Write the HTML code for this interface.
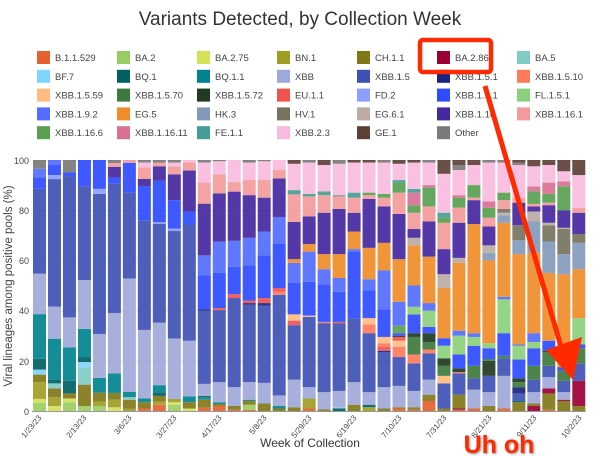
<!DOCTYPE html>
<html><head><meta charset="utf-8"><style>
body{margin:0;background:#fff;width:600px;height:464px;overflow:hidden;font-family:"Liberation Sans",sans-serif}
svg text{font-family:"Liberation Sans",sans-serif}
</style></head><body>
<svg id="s" width="600" height="464" xmlns="http://www.w3.org/2000/svg">
<text x="300" y="25" text-anchor="middle" font-size="19" fill="#333">Variants Detected, by Collection Week</text>
<g id="leg" font-size="9.5" fill="#444"></g>
<g stroke="#e6e6e6" stroke-width="1">
<line x1="32" x2="586" y1="160.5" y2="160.5"/><line x1="32" x2="586" y1="210.7" y2="210.7"/><line x1="32" x2="586" y1="260.9" y2="260.9"/><line x1="32" x2="586" y1="311.1" y2="311.1"/><line x1="32" x2="586" y1="361.3" y2="361.3"/>
</g>
<g font-size="9" fill="#444" text-anchor="end">
<text x="29" y="164">100</text><text x="29" y="214">80</text><text x="29" y="264">60</text><text x="29" y="314">40</text><text x="29" y="365">20</text><text x="29" y="415">0</text>
</g>
<text transform="translate(12,286) rotate(-90)" text-anchor="middle" font-size="11.5" fill="#444">Viral lineages among positive pools (%)</text>
<g id="bars"></g>
<line x1="32" x2="586" y1="411.5" y2="411.5" stroke="#999"/>
<g font-size="8" fill="#444" text-anchor="end">
<text transform="translate(42,418) rotate(-50)">1/23/23</text>
<text transform="translate(87,418) rotate(-50)">2/13/23</text>
<text transform="translate(132,418) rotate(-50)">3/6/23</text>
<text transform="translate(177,418) rotate(-50)">3/27/23</text>
<text transform="translate(222,418) rotate(-50)">4/17/23</text>
<text transform="translate(267,418) rotate(-50)">5/8/23</text>
<text transform="translate(312,418) rotate(-50)">5/29/23</text>
<text transform="translate(357,418) rotate(-50)">6/19/23</text>
<text transform="translate(402,418) rotate(-50)">7/10/23</text>
<text transform="translate(447,418) rotate(-50)">7/31/23</text>
<text transform="translate(492,418) rotate(-50)">8/21/23</text>
<text transform="translate(537,418) rotate(-50)">9/11/23</text>
<text transform="translate(582,418) rotate(-50)">10/2/23</text>
</g>
<text x="310" y="447" text-anchor="middle" font-size="12" fill="#333">Week of Collection</text>
<rect x="420" y="40" width="71" height="32" fill="none" stroke="#ff2a00" stroke-width="4.5" rx="3"/>
<line x1="485" y1="86" x2="562" y2="350" stroke="#ff2a00" stroke-width="5"/>
<polygon points="546,350 582,337 573,380" fill="#ff2a00"/>
<text x="499" y="453" text-anchor="middle" font-size="25" font-weight="bold" fill="#ff2a00" style="text-shadow:1px 1px 2px #888">Uh oh</text>
</svg>
<script>
var C={"B.1.1.529":"#e4612f","BA.2":"#9acd61","BA.2.75":"#d4e157","BN.1":"#9e9d24","CH.1.1":"#827717","BA.2.86":"#9b0035","BA.5":"#80cbc4","BF.7":"#81d4fa","BQ.1":"#006064","BQ.1.1":"#00838f","XBB":"#9fa8da","XBB.1.5":"#3f51b5","XBB.1.5.1":"#1a237e","XBB.1.5.10":"#ff7a5c","XBB.1.5.59":"#ffbb80","XBB.1.5.70":"#3d7a3d","XBB.1.5.72":"#1f3a1f","EU.1.1":"#ef5350","FD.2":"#8c9eff","XBB.1.9.1":"#2e4bff","XBB.1.9.2":"#536dfe","FL.1.5.1":"#8bd07a","EG.5":"#f08c2a","HK.3":"#8399bb","HV.1":"#767460","EG.6.1":"#bcaaa4","XBB.1.16":"#4527a0","XBB.1.16.1":"#f49a9a","XBB.1.16.6":"#58a050","XBB.1.16.11":"#d87093","FE.1.1":"#459e95","XBB.2.3":"#f8bbdf","GE.1":"#5d4037","Other":"#7a7a7a"};
var L=["B.1.1.529","BA.2","BA.2.75","BN.1","CH.1.1","BA.2.86","BA.5","BF.7","BQ.1","BQ.1.1","XBB","XBB.1.5","XBB.1.5.1","XBB.1.5.10","XBB.1.5.59","XBB.1.5.70","XBB.1.5.72","EU.1.1","FD.2","XBB.1.9.1","FL.1.5.1","XBB.1.9.2","EG.5","HK.3","HV.1","EG.6.1","XBB.1.16","XBB.1.16.1","XBB.1.16.6","XBB.1.16.11","FE.1.1","XBB.2.3","GE.1","Other"];
var ns="http://www.w3.org/2000/svg",leg=document.getElementById("leg");
L.forEach(function(n,i){var c=i%7,r=Math.floor(i/7),x=37+c*80,y=51+r*18.8;
var q=document.createElementNS(ns,"rect");q.setAttribute("x",x);q.setAttribute("y",y);q.setAttribute("width",13);q.setAttribute("height",13);q.setAttribute("fill",C[n]);leg.appendChild(q);
var t=document.createElementNS(ns,"text");t.setAttribute("x",x+18);t.setAttribute("y",y+10);t.textContent=n;leg.appendChild(t);});
var D=`BA.2 3.3,BA.2.75 4.8,BN.1 11.5,CH.1.1 14.5,BF.7 16.5,BQ.1 20.8,BQ.1.1 38.6,XBB 54.7,XBB.1.5 88.5,XBB.1.9.1 93,XBB.1.9.2 96.5,Other 100
BA.2.75 2,BN.1 5.5,CH.1.1 9,BA.5 11,BQ.1 12.5,BQ.1.1 28.8,XBB 41.6,XBB.1.5 92.4,FD.2 94,XBB.1.9.1 98,XBB.1.9.2 100
BA.2 3.5,BA.2.75 5,CH.1.1 7,BQ.1 12,BQ.1.1 25.3,XBB 37.3,XBB.1.5 93.6,XBB.1.9.1 95,Other 100
BA.2 2,CH.1.1 10.5,BA.5 17.3,BF.7 19.5,BQ.1 21.5,BQ.1.1 32.7,XBB 52.2,XBB.1.5 89.5,XBB.1.9.1 100
BA.2 2,BN.1 3.8,CH.1.1 7.3,BQ.1.1 13.2,XBB 30.7,XBB.1.5 86.5,FD.2 88.5,XBB.1.9.1 100
BA.2.75 1.5,BN.1 4.5,CH.1.1 7.2,BQ.1.1 15,XBB 39,XBB.1.5 90.5,XBB.1.9.1 93,XBB.1.16 97.3,XBB.1.16.1 98.8,Other 100
BN.1 1,CH.1.1 4.5,BA.5 5.5,BQ.1.1 7.6,XBB 52.8,XBB.1.5 87,XBB.1.9.1 98.9,XBB.1.16.1 100
B.1.1.529 1,CH.1.1 3.5,BQ.1.1 5,XBB 32.3,XBB.1.5 76,XBB.1.9.1 89.5,XBB.1.16 92.5,XBB.1.16.1 97,XBB.2.3 99,Other 100
B.1.1.529 2.5,BN.1 3.8,CH.1.1 6,BQ.1 7.5,BQ.1.1 10.3,XBB 35.2,XBB.1.5 74.5,FD.2 75.2,XBB.1.9.1 91.7,XBB.1.16 97.5,XBB.1.16.1 99,Other 100
BA.2 2.5,BA.2.75 3.5,BN.1 4.8,XBB 28.9,XBB.1.5 71.7,FD.2 72.7,XBB.1.9.1 84,XBB.1.16 94.3,XBB.1.16.1 97.5,XBB.2.3 99,Other 100
BA.2.75 1,CH.1.1 3.5,BQ.1.1 5.8,XBB 28,XBB.1.5 74.3,XBB.1.9.1 79.5,XBB.1.16 95.8,XBB.1.16.1 99,XBB.2.3 100
B.1.1.529 1.3,CH.1.1 4.5,BQ.1.1 5.5,BQ.1 6,XBB 10.8,XBB.1.5 40,XBB.1.5.1 40.6,XBB.1.9.1 54,XBB.1.9.2 62,XBB.1.16 82.6,XBB.1.16.1 91,XBB.2.3 99,Other 100
B.1.1.529 2,CH.1.1 2.8,BQ.1.1 3.5,XBB 11.5,XBB.1.5 40.2,EU.1.1 41,XBB.1.9.1 55,XBB.1.9.2 67.5,XBB.1.16 86.7,XBB.1.16.1 94.3,XBB.2.3 99.5,Other 100
B.1.1.529 0.5,CH.1.1 2,XBB 9.5,XBB.1.5 45,EU.1.1 46.5,XBB.1.9.1 57.5,XBB.1.9.2 67.8,XBB.1.16 87.4,XBB.1.16.1 91.2,XBB.2.3 100
B.1.1.529 0.5,BA.2 2.5,CH.1.1 4,BQ.1.1 4.5,XBB 11.5,XBB.1.5 42.3,XBB.1.5.1 43,EU.1.1 44,XBB.1.9.1 58,XBB.1.9.2 69,XBB.1.16 86,XBB.1.16.1 92,XBB.2.3 99,Other 100
CH.1.1 3,XBB 11.2,XBB.1.5 42,XBB.1.5.1 43,EU.1.1 45,XBB.1.9.1 62,XBB.1.9.2 71.5,XBB.1.16 85,XBB.1.16.1 92,XBB.2.3 99.5,Other 100
CH.1.1 1,BQ.1.1 2,XBB 6.2,XBB.1.5 46.3,XBB.1.5.10 47.5,EU.1.1 49,XBB.1.9.1 66.7,XBB.1.9.2 77.3,XBB.1.16 92.7,XBB.1.16.1 96,XBB.2.3 100
CH.1.1 1.5,XBB 12.5,XBB.1.5 34.2,EU.1.1 36,XBB.1.5.59 38.5,XBB.1.9.1 51,XBB.1.9.2 59,EG.5 60.5,XBB.1.16 75.3,XBB.1.16.1 86.3,FE.1.1 88,XBB.2.3 98.5,GE.1 100
B.1.1.529 1,BN.1 5,XBB 9.5,XBB.1.5 37.5,XBB.1.5.59 38,XBB.1.9.1 51.5,XBB.1.9.2 63.5,EG.5 66.5,XBB.1.16 77.5,XBB.1.16.1 85.5,FE.1.1 86.5,XBB.2.3 99,Other 100
CH.1.1 0.7,XBB 7.5,XBB.1.5 35,XBB.1.5.10 35.5,XBB.1.9.1 50.5,XBB.1.9.2 56.5,EG.5 62.5,XBB.1.16 79,XBB.1.16.1 86,FE.1.1 87.5,XBB.2.3 98,GE.1 100
BQ.1 1,BA.5 1.5,XBB 8,XBB.1.5 35,EU.1.1 35.5,XBB.1.9.1 47.5,XBB.1.9.2 53,EG.5 62.5,XBB.1.16 80.5,XBB.1.16.1 85.5,FE.1.1 86,XBB.2.3 98.5,Other 100
CH.1.1 2.5,XBB 11.5,XBB.1.5 37,XBB.1.9.1 63.5,XBB.1.9.2 64.5,EG.5 71.5,XBB.1.16 79,XBB.1.16.1 85,FE.1.1 87,XBB.2.3 99,GE.1 100
BN.1 1.5,BQ.1 2.5,XBB 7.5,XBB.1.5 31,XBB.1.5.10 34.5,XBB.1.5.59 37,XBB.1.9.1 48,XBB.1.9.2 52.5,EG.5 65,XBB.1.16 84.5,XBB.1.16.1 86,XBB.1.16.6 87,XBB.2.3 99,GE.1 100
CH.1.1 1,XBB 9.5,XBB.1.5 23.5,XBB.1.5.1 24,EU.1.1 25.5,XBB.1.5.10 27,XBB.1.5.59 29.5,XBB.1.9.1 40.5,XBB.1.9.2 56,EG.5 67,XBB.1.16 81.5,XBB.1.16.1 85,XBB.1.16.6 86.5,XBB.2.3 99,Other 100
B.1.1.529 1,CH.1.1 1.5,XBB 10,XBB.1.5 21.5,XBB.1.5.10 25.5,XBB.1.5.59 28,EU.1.1 29.5,XBB.1.5.72 30,XBB.1.9.1 31,XBB.1.16.6 34,XBB.1.9.2 43.5,EG.5 60.5,XBB.1.16 78.5,XBB.1.16.1 87,XBB.1.16.6 91,FE.1.1 92,XBB.2.3 98.5,GE.1 100
B.1.1.529 0.5,CH.1.1 1.5,XBB 8,XBB.1.5 19,XBB.1.5.10 22.5,XBB.1.5.70 29.5,XBB.1.5.72 31,XBB.1.9.1 38.5,FL.1.5.1 41.5,XBB.1.9.2 50,EG.5 66,EG.6.1 69,XBB.1.16 72.5,XBB.1.16.1 79,XBB.1.16.6 82,XBB.1.16.11 87,FE.1.1 88.5,XBB.2.3 99,GE.1 100
B.1.1.529 4,CH.1.1 6.5,XBB 12.5,XBB.1.5 23,XBB.1.5.10 24.5,XBB.1.5.70 27.5,XBB.1.5.72 31,XBB.1.9.1 33.5,FL.1.5.1 40,XBB.1.9.2 43,EG.5 61.5,XBB.1.16 75.5,XBB.1.16.1 81.5,XBB.1.16.6 89,XBB.1.16.11 90,XBB.2.3 99,Other 100
CH.1.1 1,XBB.1.5 11,XBB.1.5.59 14,XBB.1.5.70 18,XBB.1.5.72 21,FL.1.5.1 26,XBB.1.9.1 29,EG.5 49,EG.6.1 54.5,XBB.1.16 64.5,XBB.1.16.1 75,XBB.1.16.6 77,FE.1.1 79,XBB.2.3 94.5,GE.1 100
B.1.1.529 0.5,BA.2.86 1,CH.1.1 6.5,XBB.1.5 15,XBB.1.5.10 15.5,XBB.1.5.72 17,XBB.1.9.1 22.5,FL.1.5.1 30,XBB.1.9.2 32,EG.5 59,EG.6.1 61,XBB.1.16 75,XBB.1.16.1 81,XBB.1.16.6 85,XBB.1.16.11 86,XBB.2.3 96,Other 98,GE.1 100
B.1.1.529 1,XBB 8.5,XBB.1.5 13,XBB.1.5.70 18,XBB.1.9.1 26,FL.1.5.1 29.5,XBB.1.9.2 31,EG.5 74.5,XBB.1.16 84,XBB.1.16.1 85,XBB.1.16.6 90,XBB.2.3 98,GE.1 100
CH.1.1 2,XBB 7.5,XBB.1.5 14,XBB.1.5.72 20,XBB.1.5.70 20.7,XBB.1.9.1 25,FL.1.5.1 27,EG.5 60,HK.3 63,EG.6.1 66,XBB.1.16 73.5,XBB.1.16.1 77,XBB.1.16.6 81,XBB.1.16.11 83.5,XBB.2.3 99,Other 100
B.1.1.529 1,XBB 14,XBB.1.5 21,XBB.1.5.70 22,XBB.1.9.1 31,FL.1.5.1 44.5,XBB.1.9.2 45.5,EG.5 75,HK.3 78,EG.6.1 79,HV.1 80.5,XBB.1.16.1 84,XBB.1.16.6 87,XBB.2.3 99,Other 100
CH.1.1 3.5,BQ.1 4,XBB.1.5 7,XBB.1.5.1 9.5,XBB.1.5.70 11.5,XBB.1.5.72 13,XBB.1.9.1 20.5,FL.1.5.1 26,XBB.1.9.2 26.5,EG.5 62.5,HK.3 68,HV.1 74,XBB.1.16 83,XBB.1.16.1 85,XBB.2.3 98,Other 99,GE.1 100
BA.2.86 2,CH.1.1 3,XBB 7.5,XBB.1.5 12.5,XBB.1.5.70 18,XBB.1.9.1 25,FL.1.5.1 27.5,XBB.1.9.2 31,EG.5 63,HK.3 75.5,EG.6.1 79.5,XBB.1.16 81.5,XBB.1.16.1 82.5,XBB.1.16.6 87.5,XBB.1.16.11 89.5,XBB.2.3 97.5,GE.1 100
B.1.1.529 0.5,CH.1.1 7,BA.2.86 9,XBB 13.5,XBB.1.5 18,XBB.1.5.70 23.5,XBB.1.5.72 24,XBB.1.9.1 28,EG.5 55,HK.3 67.5,HV.1 74,EG.6.1 75,XBB.1.16 82,XBB.1.16.1 83,XBB.1.16.6 86.5,XBB.1.16.11 91,XBB.2.3 98,GE.1 100
CH.1.1 4,BA.2.86 4.5,XBB 7.5,XBB.1.5 12,XBB.1.5.70 16,XBB.1.9.1 17.5,EG.5 54.5,HK.3 62.5,HV.1 72.5,EG.6.1 73,XBB.1.16 80,XBB.1.16.6 89.5,XBB.1.16.11 91.5,XBB.2.3 95.5,GE.1 100
CH.1.1 2,BA.2.86 12,XBB.1.5 19,XBB.1.5.70 25,XBB.1.9.1 26.5,FL.1.5.1 37,EG.5 56.5,HK.3 67,HV.1 70.5,XBB.1.16 79,XBB.1.16.1 81,XBB.2.3 94,GE.1 100`;
var g=document.getElementById("bars");
D.split("\n").forEach(function(line,i){var x=33+i*14.98,prev=0;
line.split(",").forEach(function(p){var k=p.trim().split(" "),n=k[0],v=parseFloat(k[1]);
var y0=411-prev*2.51,y1=411-v*2.51;
var r=document.createElementNS(ns,"rect");r.setAttribute("x",x);r.setAttribute("width",13);r.setAttribute("y",y1);r.setAttribute("height",Math.max(0,y0-y1));r.setAttribute("fill",C[n]);r.setAttribute("fill-opacity","0.92");g.appendChild(r);prev=v;});});
</script>
</body></html>
